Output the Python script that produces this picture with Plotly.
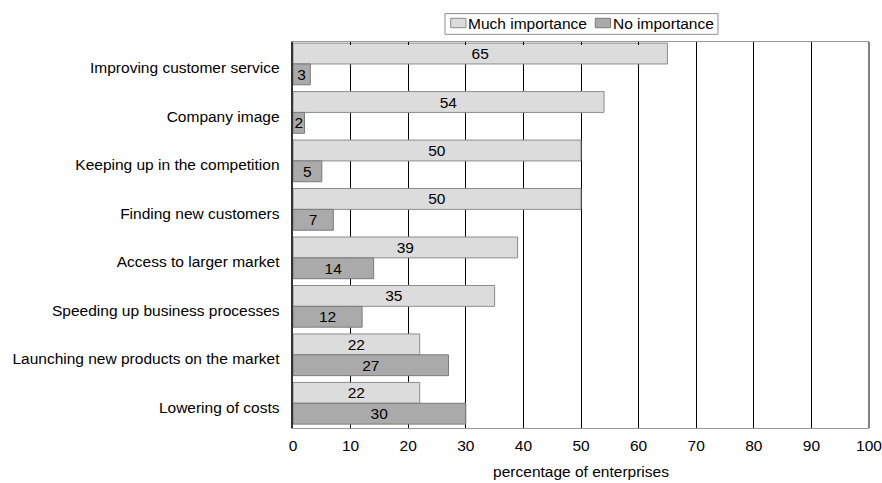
import plotly.graph_objects as go

# Reasons for e-business adoption, share of enterprises (%)
categories = [
    "Improving customer service",
    "Company image",
    "Keeping up in the competition",
    "Finding new customers",
    "Access to larger market",
    "Speeding up business processes",
    "Launching new products on the market",
    "Lowering of costs",
]
much_importance = [65, 54, 50, 50, 39, 35, 22, 22]
no_importance = [3, 2, 5, 7, 14, 12, 27, 30]
series_names = ["Much importance", "No importance"]
x_ticks = [0, 10, 20, 30, 40, 50, 60, 70, 80, 90, 100]

FONT = "Liberation Sans, Arial, sans-serif"
FS = 15.5
FILLS = ["#dcdcdc", "#aaaaaa"]
EDGES = ["#8c8c8c", "#7a7a7a"]

fig = go.Figure()
for name, values, fill, edge in zip(series_names, [much_importance, no_importance], FILLS, EDGES):
    fig.add_trace(go.Bar(
        name=name, y=categories, x=values, orientation="h",
        marker=dict(color=fill, line=dict(color=edge, width=1)),
        text=values, textposition="inside", insidetextanchor="middle",
        constraintext="none", textangle=0,
        textfont=dict(color="black", size=FS, family=FONT),
        showlegend=False,
    ))

fig.update_layout(
    width=882, height=483,
    margin=dict(l=293, r=13, t=42, b=55),
    paper_bgcolor="white", plot_bgcolor="white",
    barmode="group", bargap=0.14, bargroupgap=0,
    font=dict(family=FONT, size=FS, color="black"),
    xaxis=dict(
        range=[0, 100], tickvals=x_ticks, ticktext=[str(v) for v in x_ticks],
        showgrid=True, gridcolor="black", gridwidth=1,
        zeroline=False, showline=True, linecolor="#9a9a9a", linewidth=1,
        mirror="ticks", ticks="inside", ticklen=3, tickcolor="black",
        ticklabelstandoff=3, ticklabeloverflow="allow", automargin=False,
        title=dict(text="percentage of enterprises", font=dict(size=FS), standoff=13),
        tickfont=dict(size=FS),
    ),
    yaxis=dict(
        range=[7.51, -0.453], showgrid=False, zeroline=False,
        showline=True, linecolor="#333333", linewidth=1.5, automargin=False,
        ticks="", ticksuffix="  ", tickfont=dict(size=FS), ticklabelshift=-4,
    ),
)

# Solid frame edge at the right
fig.add_shape(type="line", xref="paper", yref="paper", x0=1, x1=1, y0=0, y1=1,
              line=dict(color="black", width=1))

# Compact boxed legend above the plot area
fig.add_shape(type="rect", xref="paper", yref="paper",
              x0=0.2639, x1=0.7378, y0=1.0199, y1=1.0736,
              line=dict(color="#8c8c8c", width=1), fillcolor="white")
legend_swatch_x = [0.2738, 0.5248]
for name, fill, edge, sx in zip(series_names, FILLS, EDGES, legend_swatch_x):
    fig.add_shape(type="rect", xref="paper", yref="paper",
                  x0=sx, x1=sx + 0.0265, y0=1.0370, y1=1.0614,
                  line=dict(color=edge, width=1), fillcolor=fill)
    fig.add_annotation(text=name, xref="paper", yref="paper",
                       x=sx + 0.0285, y=1.0484, xanchor="left", yanchor="middle",
                       showarrow=False, font=dict(size=FS, color="black"),
                       borderpad=0)

fig.write_html("out.html")
